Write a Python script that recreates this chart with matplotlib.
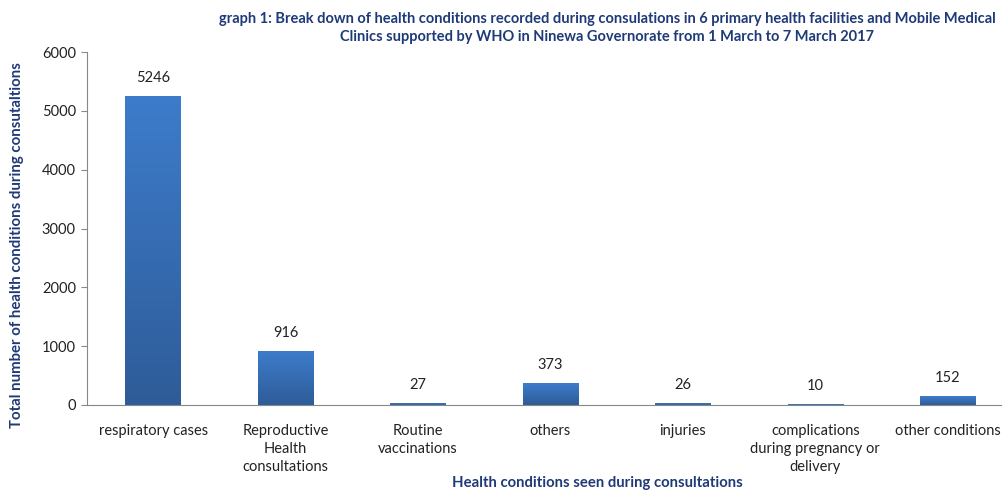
import numpy as np
import matplotlib
matplotlib.use("Agg")
import matplotlib.pyplot as plt
from matplotlib.colors import LinearSegmentedColormap

plt.rcParams['font.family'] = ['Lato', 'DejaVu Sans']

categories = ["respiratory cases", "Reproductive\nHealth\nconsultations", "Routine\nvaccinations",
              "others", "injuries", "complications\nduring pregnancy or\ndelivery", "other conditions"]
values = [5246, 916, 27, 373, 26, 10, 152]

navy = "#1f3a78"
grad = LinearSegmentedColormap.from_list("g", ["#2e5c98", "#3d7ccb"])

fig = plt.figure(figsize=(10.03, 4.91), dpi=100)
# axes runs past the right edge, as in the reference
ax = fig.add_axes([87/1003, 1 - 405/491, 927/1003, 353/491])

x = np.arange(len(values))
w = 0.42
bars = ax.bar(x, values, width=w, color="none", edgecolor="none")
gy = np.linspace(0, 1, 256).reshape(-1, 1)
for b, v in zip(bars, values):
    im = ax.imshow(gy, cmap=grad, aspect="auto", origin="lower",
                   extent=[b.get_x(), b.get_x() + w, 0, v], zorder=2)
    im.set_clip_path(b)
    ax.text(b.get_x() + w/2, v + 190, str(v), ha="center", va="bottom", fontsize=10.5, color="#222222")

ax.set_xlim(-0.5, len(values) - 0.5)
ax.set_ylim(0, 6000)
ax.set_yticks(range(0, 6001, 1000))
ax.set_xticks(x)
ax.set_xticklabels(categories, fontsize=10.5, color="#222222", linespacing=1.35)
ax.tick_params(axis="x", length=0, pad=14)
ax.tick_params(axis="y", labelsize=10.5, labelcolor="#222222", color="#888888", length=4, pad=4)
for s in ["top", "right"]:
    ax.spines[s].set_visible(False)
for s in ["left", "bottom"]:
    ax.spines[s].set_color("#888888")

fig.text(17/1003, 1 - 245/491, "Total number of health conditions during consutaltions", rotation=90,
         ha="center", va="center", fontsize=10.8, fontweight="bold", color=navy)
fig.text(597/1003, 1 - 483/491, "Health conditions seen during consultations", ha="center", va="center",
         fontsize=10.7, fontweight="bold", color=navy)
fig.text(607/1003, 1 - 28/491,
         "graph 1: Break down of health conditions recorded during consulations in 6 primary health facilities and Mobile Medical\n"
         "Clinics supported by WHO in Ninewa Governorate from 1 March to 7 March 2017",
         ha="center", va="center", fontsize=10.5, fontweight="bold", color=navy, linespacing=1.35)

fig.savefig("out.png", dpi=100)
